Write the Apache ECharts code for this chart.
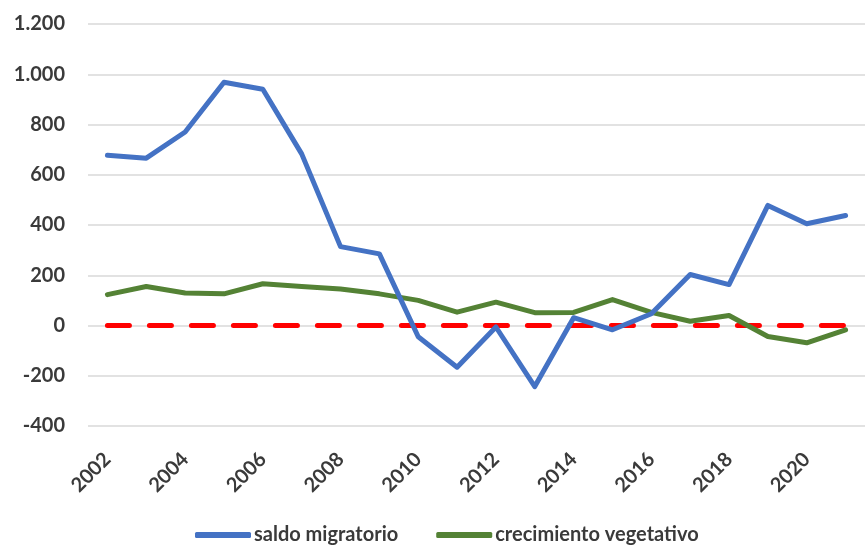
<!DOCTYPE html>
<html>
<head>
<meta charset="utf-8">
<script src="https://cdn.jsdelivr.net/npm/echarts@6/dist/echarts.min.js"></script>
<style>
  html, body { margin: 0; padding: 0; background: #fff; }
  #chart { width: 865px; height: 546px; }
</style>
</head>
<body>
<div id="chart"></div>
<script>
// años y series
const years = ['2002', '2003', '2004', '2005', '2006', '2007', '2008', '2009', '2010', '2011',
  '2012', '2013', '2014', '2015', '2016', '2017', '2018', '2019', '2020', '2021'];
const saldoMigratorio = [678, 666, 770, 968, 940, 683, 314, 285, -45, -166,
  -6, -243, 31, -17, 47, 203, 163, 478, 405, 438];
const crecimientoVegetativo = [123, 155, 129, 126, 166, 155, 145, 126, 100, 53,
  93, 51, 52, 103, 52, 17, 40, -44, -69, -17];
const lineaCero = years.map(() => 0);

const TEXT = '#3a3a3a';
const FONT = 'Lato, "Open Sans", sans-serif';

// 1200 -> "1.200"
const fmt = (v) => String(v).replace(/\B(?=(\d{3})+(?!\d))/g, '.');

const chart = echarts.init(document.getElementById('chart'), null, { renderer: 'canvas' });
chart.setOption({
  backgroundColor: '#fff',
  animation: false,
  textStyle: { fontFamily: FONT },
  grid: { left: 88, right: 0, top: 24, bottom: 120 },
  legend: {
    data: ['saldo migratorio', 'crecimiento vegetativo'],
    top: 524,
    left: 195,
    padding: 0,
    icon: 'roundRect',
    itemWidth: 56,
    itemHeight: 6,
    itemGap: 38,
    textStyle: {
      color: TEXT, fontSize: 20, lineHeight: 22, fontWeight: 'bold', fontFamily: FONT,
      padding: [0, 0, 0, -2],
    },
  },
  xAxis: {
    type: 'category',
    data: years,
    boundaryGap: true,
    axisLine: { show: false },
    axisTick: { show: false },
    axisLabel: {
      interval: 1,
      rotate: 45,
      color: TEXT,
      fontSize: 20,
      fontWeight: 'bold',
      margin: 30,
    },
  },
  yAxis: {
    type: 'value',
    min: -400,
    max: 1200,
    interval: 200,
    axisLine: { show: false },
    axisTick: { show: false },
    axisLabel: {
      color: TEXT,
      fontSize: 20,
      fontWeight: 'bold',
      margin: 23,
      formatter: fmt,
    },
    splitLine: { lineStyle: { color: '#d9d9d9', width: 1.5 } },
  },
  series: [
    {
      name: 'referencia',
      type: 'line',
      data: lineaCero,
      symbol: 'none',
      silent: true,
      z: 1,
      lineStyle: { color: '#ff0000', width: 5, type: [22, 20], cap: 'round' },
    },
    {
      name: 'saldo migratorio',
      type: 'line',
      data: saldoMigratorio,
      symbol: 'none',
      z: 3,
      itemStyle: { color: '#4472c4' },
      lineStyle: { color: '#4472c4', width: 5, cap: 'round', join: 'round' },
    },
    {
      name: 'crecimiento vegetativo',
      type: 'line',
      data: crecimientoVegetativo,
      symbol: 'none',
      z: 2,
      itemStyle: { color: '#548235' },
      lineStyle: { color: '#548235', width: 5, cap: 'round', join: 'round' },
    },
  ],
});
</script>
</body>
</html>
